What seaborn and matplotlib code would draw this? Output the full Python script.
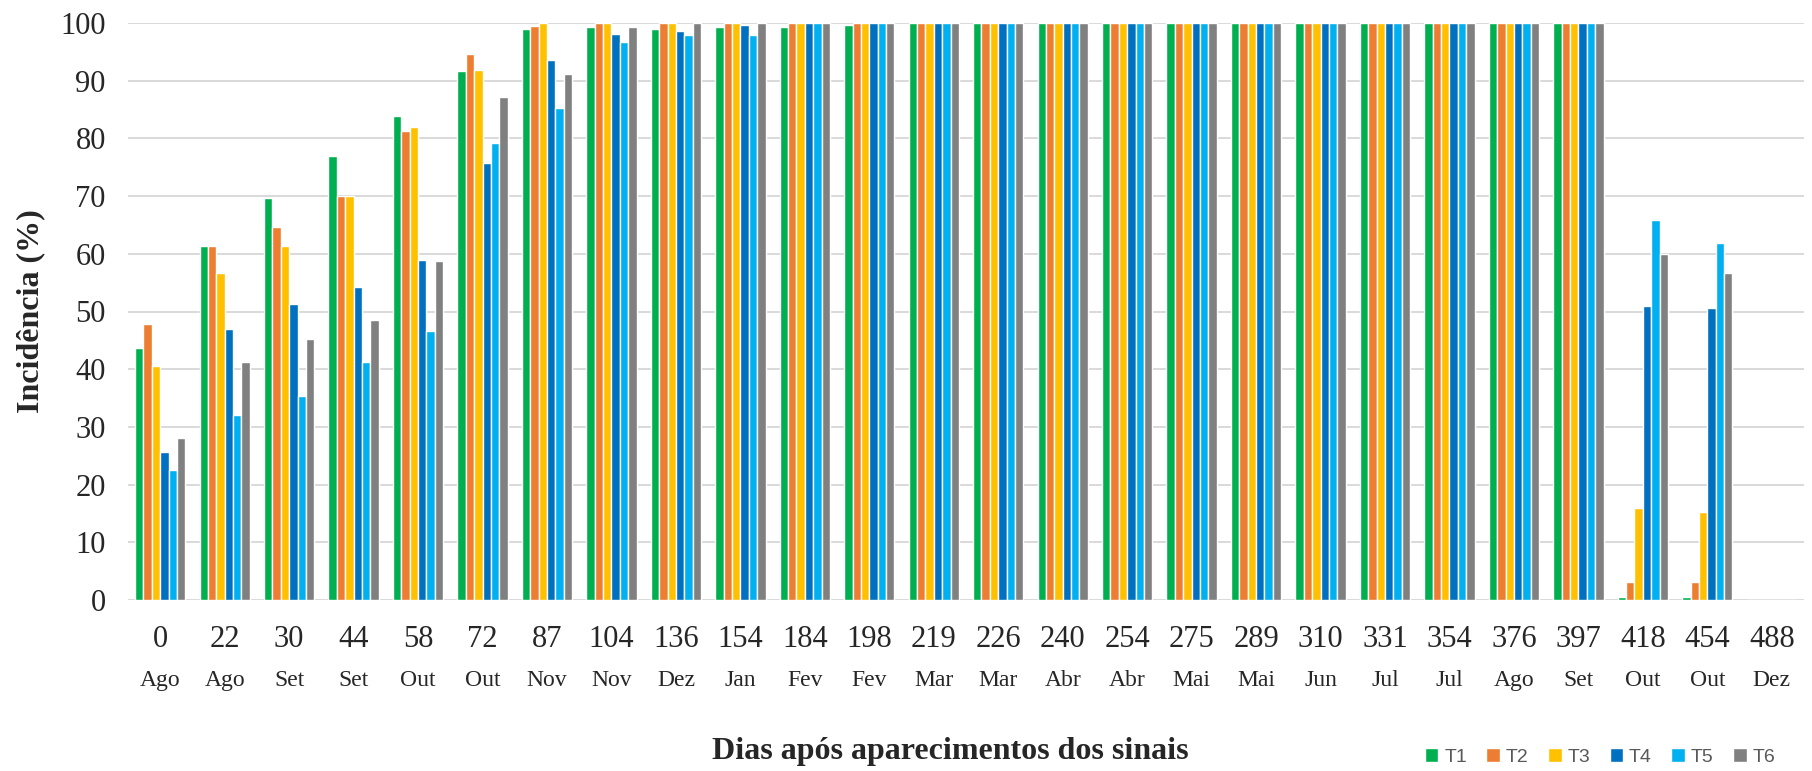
import numpy as np
import pandas as pd
import seaborn as sns
import matplotlib
matplotlib.use("Agg")
import matplotlib.pyplot as plt

# Days after first symptoms and sampling month
dias = [0, 22, 30, 44, 58, 72, 87, 104, 136, 154, 184, 198, 219, 226, 240,
        254, 275, 289, 310, 331, 354, 376, 397, 418, 454, 488]
meses = ["Ago", "Ago", "Set", "Set", "Out", "Out", "Nov", "Nov", "Dez", "Jan",
         "Fev", "Fev", "Mar", "Mar", "Abr", "Abr", "Mai", "Mai", "Jun", "Jul",
         "Jul", "Ago", "Set", "Out", "Out", "Dez"]

# Incidence (%) per treatment
t1 = [43.6, 61.3, 69.6, 77.0, 83.9, 91.6, 98.9, 99.3, 99.0, 99.3, 99.3, 99.6,
      100, 100, 100, 100, 100, 100, 100, 100, 100, 100, 100, 0.6, 0.6, 0]
t2 = [47.9, 61.3, 64.6, 70.0, 81.2, 94.6, 99.4, 100, 100, 100, 100, 100,
      100, 100, 100, 100, 100, 100, 100, 100, 100, 100, 100, 3.2, 3.2, 0]
t3 = [40.6, 56.7, 61.3, 70.0, 81.9, 91.9, 100, 100, 100, 100, 100, 100,
      100, 100, 100, 100, 100, 100, 100, 100, 100, 100, 100, 15.9, 15.2, 0]
t4 = [25.6, 46.9, 51.3, 54.3, 59.0, 75.7, 93.6, 98.1, 98.7, 99.6, 100, 100,
      100, 100, 100, 100, 100, 100, 100, 100, 100, 100, 100, 50.9, 50.6, 0]
t5 = [22.6, 32.0, 35.3, 41.3, 46.6, 79.2, 85.3, 96.7, 98.0, 98.0, 100, 100,
      100, 100, 100, 100, 100, 100, 100, 100, 100, 100, 100, 65.9, 61.9, 0]
t6 = [28.1, 41.3, 45.3, 48.6, 58.7, 87.2, 91.2, 99.3, 100, 100, 100, 100,
      100, 100, 100, 100, 100, 100, 100, 100, 100, 100, 100, 60.0, 56.7, 0]

tratamentos = ["T1", "T2", "T3", "T4", "T5", "T6"]
cores = ["#00B050", "#ED7D31", "#FFC000", "#0070C0", "#00B0F0", "#808080"]

series = [t1, t2, t3, t4, t5, t6]
df = pd.DataFrame({
    "dia": [str(d) for s in series for d in dias],
    "incidencia": [v for s in series for v in s],
    "trat": [t for t, s in zip(tratamentos, series) for _ in s],
})

sns.set_theme(style="white")
plt.rcParams["font.family"] = ["Liberation Serif", "DejaVu Serif"]

fig = plt.figure(figsize=(18.12, 7.71), dpi=100)
ax = fig.add_axes([128 / 1812, 1 - 600 / 771, (1804 - 128) / 1812, 577 / 771])

sns.barplot(data=df, x="dia", y="incidencia", hue="trat",
            order=[str(d) for d in dias], hue_order=tratamentos,
            palette=cores, width=0.78, edgecolor="white", linewidth=1.0,
            saturation=1, errorbar=None, ax=ax)

ax.set_ylim(0, 100)
ax.set_xlim(-0.5, len(dias) - 0.5)
ax.set_yticks(np.arange(0, 101, 10))
ax.yaxis.grid(True, color="#D9D9D9", linewidth=1.4)
ax.set_axisbelow(True)
for sp in ax.spines.values():
    sp.set_visible(False)
ax.tick_params(axis="both", length=0)
ax.tick_params(axis="y", labelsize=22, pad=16)
ax.tick_params(axis="x", labelsize=22, pad=18)
ax.set_xlabel("")
ax.set_ylabel("Incidência (%)", fontsize=23, fontweight="bold", labelpad=11)

# Month under each day label
for i, m in enumerate(meses):
    ax.text(i, -0.139, m, transform=ax.get_xaxis_transform(),
            ha="center", va="center", fontsize=17)

fig.text(950 / 1812, 1 - 752 / 771, "Dias após aparecimentos dos sinais",
         ha="center", va="center", fontsize=23, fontweight="bold")

handles, labels = ax.get_legend_handles_labels()
ax.get_legend().remove()
fig.legend(handles, labels, loc="center", ncol=6,
           bbox_to_anchor=(1600 / 1812, 1 - 757 / 771), frameon=False,
           handlelength=0.7, handleheight=0.7, handletextpad=0.3,
           columnspacing=1.0,
           prop={"family": "Liberation Sans", "size": 14},
           labelcolor="#595959")

fig.savefig("out.png", dpi=100)
